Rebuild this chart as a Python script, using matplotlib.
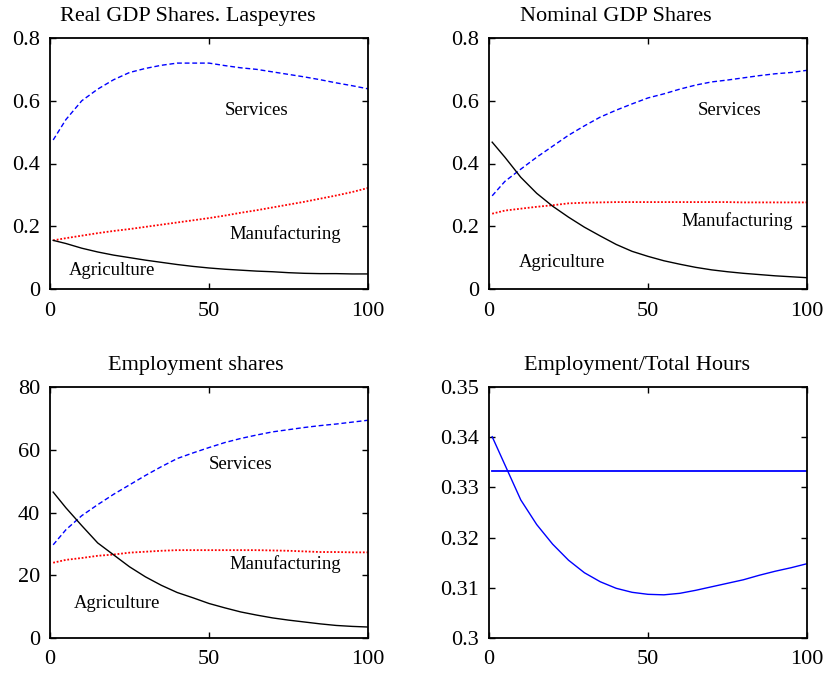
import matplotlib
matplotlib.use("Agg")
import matplotlib.pyplot as plt
from matplotlib.ticker import FuncFormatter

# Data (x = period)
x_pts = [1, 5, 10, 15, 20, 25, 30, 35, 40, 45, 50, 55, 60, 65, 70, 75, 80, 85, 90, 95, 100]

# Real GDP shares, Laspeyres
real_services = [0.475, 0.54, 0.60, 0.637, 0.667, 0.69, 0.703, 0.713, 0.72, 0.72, 0.72, 0.712,
                 0.705, 0.70, 0.692, 0.684, 0.676, 0.667, 0.657, 0.648, 0.638]
real_manuf = [0.155, 0.162, 0.17, 0.178, 0.185, 0.191, 0.198, 0.205, 0.212, 0.219, 0.226, 0.234,
              0.243, 0.251, 0.26, 0.269, 0.278, 0.288, 0.298, 0.309, 0.322]
real_agri = [0.155, 0.145, 0.13, 0.118, 0.108, 0.10, 0.092, 0.085, 0.078, 0.072, 0.067, 0.063,
             0.06, 0.057, 0.055, 0.052, 0.05, 0.049, 0.049, 0.048, 0.048]

# Nominal GDP shares
nom_services = [0.297, 0.343, 0.382, 0.42, 0.455, 0.49, 0.52, 0.548, 0.57, 0.59, 0.609, 0.622,
                0.637, 0.65, 0.66, 0.666, 0.673, 0.68, 0.686, 0.69, 0.697]
nom_manuf = [0.24, 0.25, 0.256, 0.262, 0.267, 0.273, 0.275, 0.276, 0.277, 0.277, 0.277, 0.277,
             0.277, 0.277, 0.277, 0.277, 0.276, 0.276, 0.276, 0.276, 0.276]
nom_agri = [0.468, 0.42, 0.356, 0.305, 0.264, 0.229, 0.197, 0.169, 0.142, 0.12, 0.104, 0.09,
            0.079, 0.069, 0.061, 0.055, 0.05, 0.046, 0.042, 0.039, 0.036]

# Employment shares (percent)
emp_services = [29.7, 34.5, 39.0, 42.5, 45.8, 48.8, 51.8, 54.6, 57.2, 59.0, 60.7, 62.3,
                63.6, 64.7, 65.7, 66.4, 67.1, 67.7, 68.2, 68.8, 69.4]
emp_manuf = [24.0, 24.9, 25.5, 26.2, 26.6, 27.2, 27.5, 27.8, 28.0, 28.0, 28.0, 28.0,
             28.0, 28.0, 27.9, 27.8, 27.6, 27.4, 27.4, 27.3, 27.3]
emp_agri = [46.5, 41.5, 35.8, 30.3, 26.5, 22.7, 19.5, 16.8, 14.5, 12.8, 11.0, 9.6,
            8.3, 7.3, 6.4, 5.7, 5.1, 4.5, 4.0, 3.7, 3.5]

# Employment / total hours
hours_ratio = [0.3401, 0.3345, 0.3275, 0.3226, 0.3187, 0.3155, 0.3130, 0.3112, 0.3099, 0.3091,
               0.3087, 0.3086, 0.3089, 0.3095, 0.3102, 0.3109, 0.3116, 0.3125, 0.3133, 0.3140, 0.3148]
hours_const = [1 / 3] * len(x_pts)

plt.rcParams["font.family"] = ["Liberation Serif", "DejaVu Serif"]

fig = plt.figure(figsize=(8.27, 6.78), dpi=100)

W, H = 827.0, 678.0
boxes = {
    "tl": (50, 38, 368, 289),
    "tr": (489, 38, 807, 289),
    "bl": (50, 387, 368, 638),
    "br": (489, 387, 807, 638),
}


def make_ax(key):
    x0, y0, x1, y1 = boxes[key]
    ax = fig.add_axes([x0 / W, 1 - y1 / H, (x1 - x0) / W, (y1 - y0) / H])
    for s in ax.spines.values():
        s.set_linewidth(1.3)
    ax.tick_params(direction="in", top=True, right=True, length=4, width=1,
                   labelsize=16, pad=7)
    ax.tick_params(axis="x", pad=9)
    ax.set_xlim(0, 100)
    ax.set_xticks([0, 50, 100])
    return ax


def fmt(v, pos):
    return "%g" % round(v, 4)


def three_sectors(ax, serv, manuf, agri):
    ax.plot(x_pts, serv, color="blue", linestyle=(0, (3.5, 2)), linewidth=1.0)
    ax.plot(x_pts, manuf, color="red", linestyle=(0, (1, 1)), linewidth=1.3)
    ax.plot(x_pts, agri, color="black", linestyle="-", linewidth=1.0)


# Real GDP shares
ax = make_ax("tl")
three_sectors(ax, real_services, real_manuf, real_agri)
ax.set_ylim(0, 0.8)
ax.set_yticks([0, 0.2, 0.4, 0.6, 0.8])
ax.yaxis.set_major_formatter(FuncFormatter(fmt))
ax.set_title("Real GDP Shares. Laspeyres", fontsize=16, x=0.434, pad=12)
ax.text(65, 0.57, "Services", fontsize=13.5, ha="center", va="center")
ax.text(74, 0.175, "Manufacturing", fontsize=13.5, ha="center", va="center")
ax.text(19.5, 0.058, "Agriculture", fontsize=13.5, ha="center", va="center")

# Nominal GDP shares
ax = make_ax("tr")
three_sectors(ax, nom_services, nom_manuf, nom_agri)
ax.set_ylim(0, 0.8)
ax.set_yticks([0, 0.2, 0.4, 0.6, 0.8])
ax.yaxis.set_major_formatter(FuncFormatter(fmt))
ax.set_title("Nominal GDP Shares", fontsize=16, x=0.40, pad=12)
ax.text(75.5, 0.57, "Services", fontsize=13.5, ha="center", va="center")
ax.text(78, 0.215, "Manufacturing", fontsize=13.5, ha="center", va="center")
ax.text(23, 0.083, "Agriculture", fontsize=13.5, ha="center", va="center")

# Employment shares
ax = make_ax("bl")
three_sectors(ax, emp_services, emp_manuf, emp_agri)
ax.set_ylim(0, 80)
ax.set_yticks([0, 20, 40, 60, 80])
ax.set_title("Employment shares", fontsize=16, x=0.459, pad=12)
ax.text(60, 55.3, "Services", fontsize=13.5, ha="center", va="center")
ax.text(74, 23.5, "Manufacturing", fontsize=13.5, ha="center", va="center")
ax.text(21, 11, "Agriculture", fontsize=13.5, ha="center", va="center")

# Employment / total hours
ax = make_ax("br")
ax.plot(x_pts, hours_ratio, color="blue", linewidth=1.0)
ax.plot(x_pts, hours_const, color="blue", linewidth=1.3)
ax.set_ylim(0.3, 0.35)
ax.set_yticks([0.3, 0.31, 0.32, 0.33, 0.34, 0.35])
ax.yaxis.set_major_formatter(FuncFormatter(fmt))
ax.set_title("Employment/Total Hours", fontsize=16, x=0.465, pad=12)

fig.savefig("out.png", dpi=100)
